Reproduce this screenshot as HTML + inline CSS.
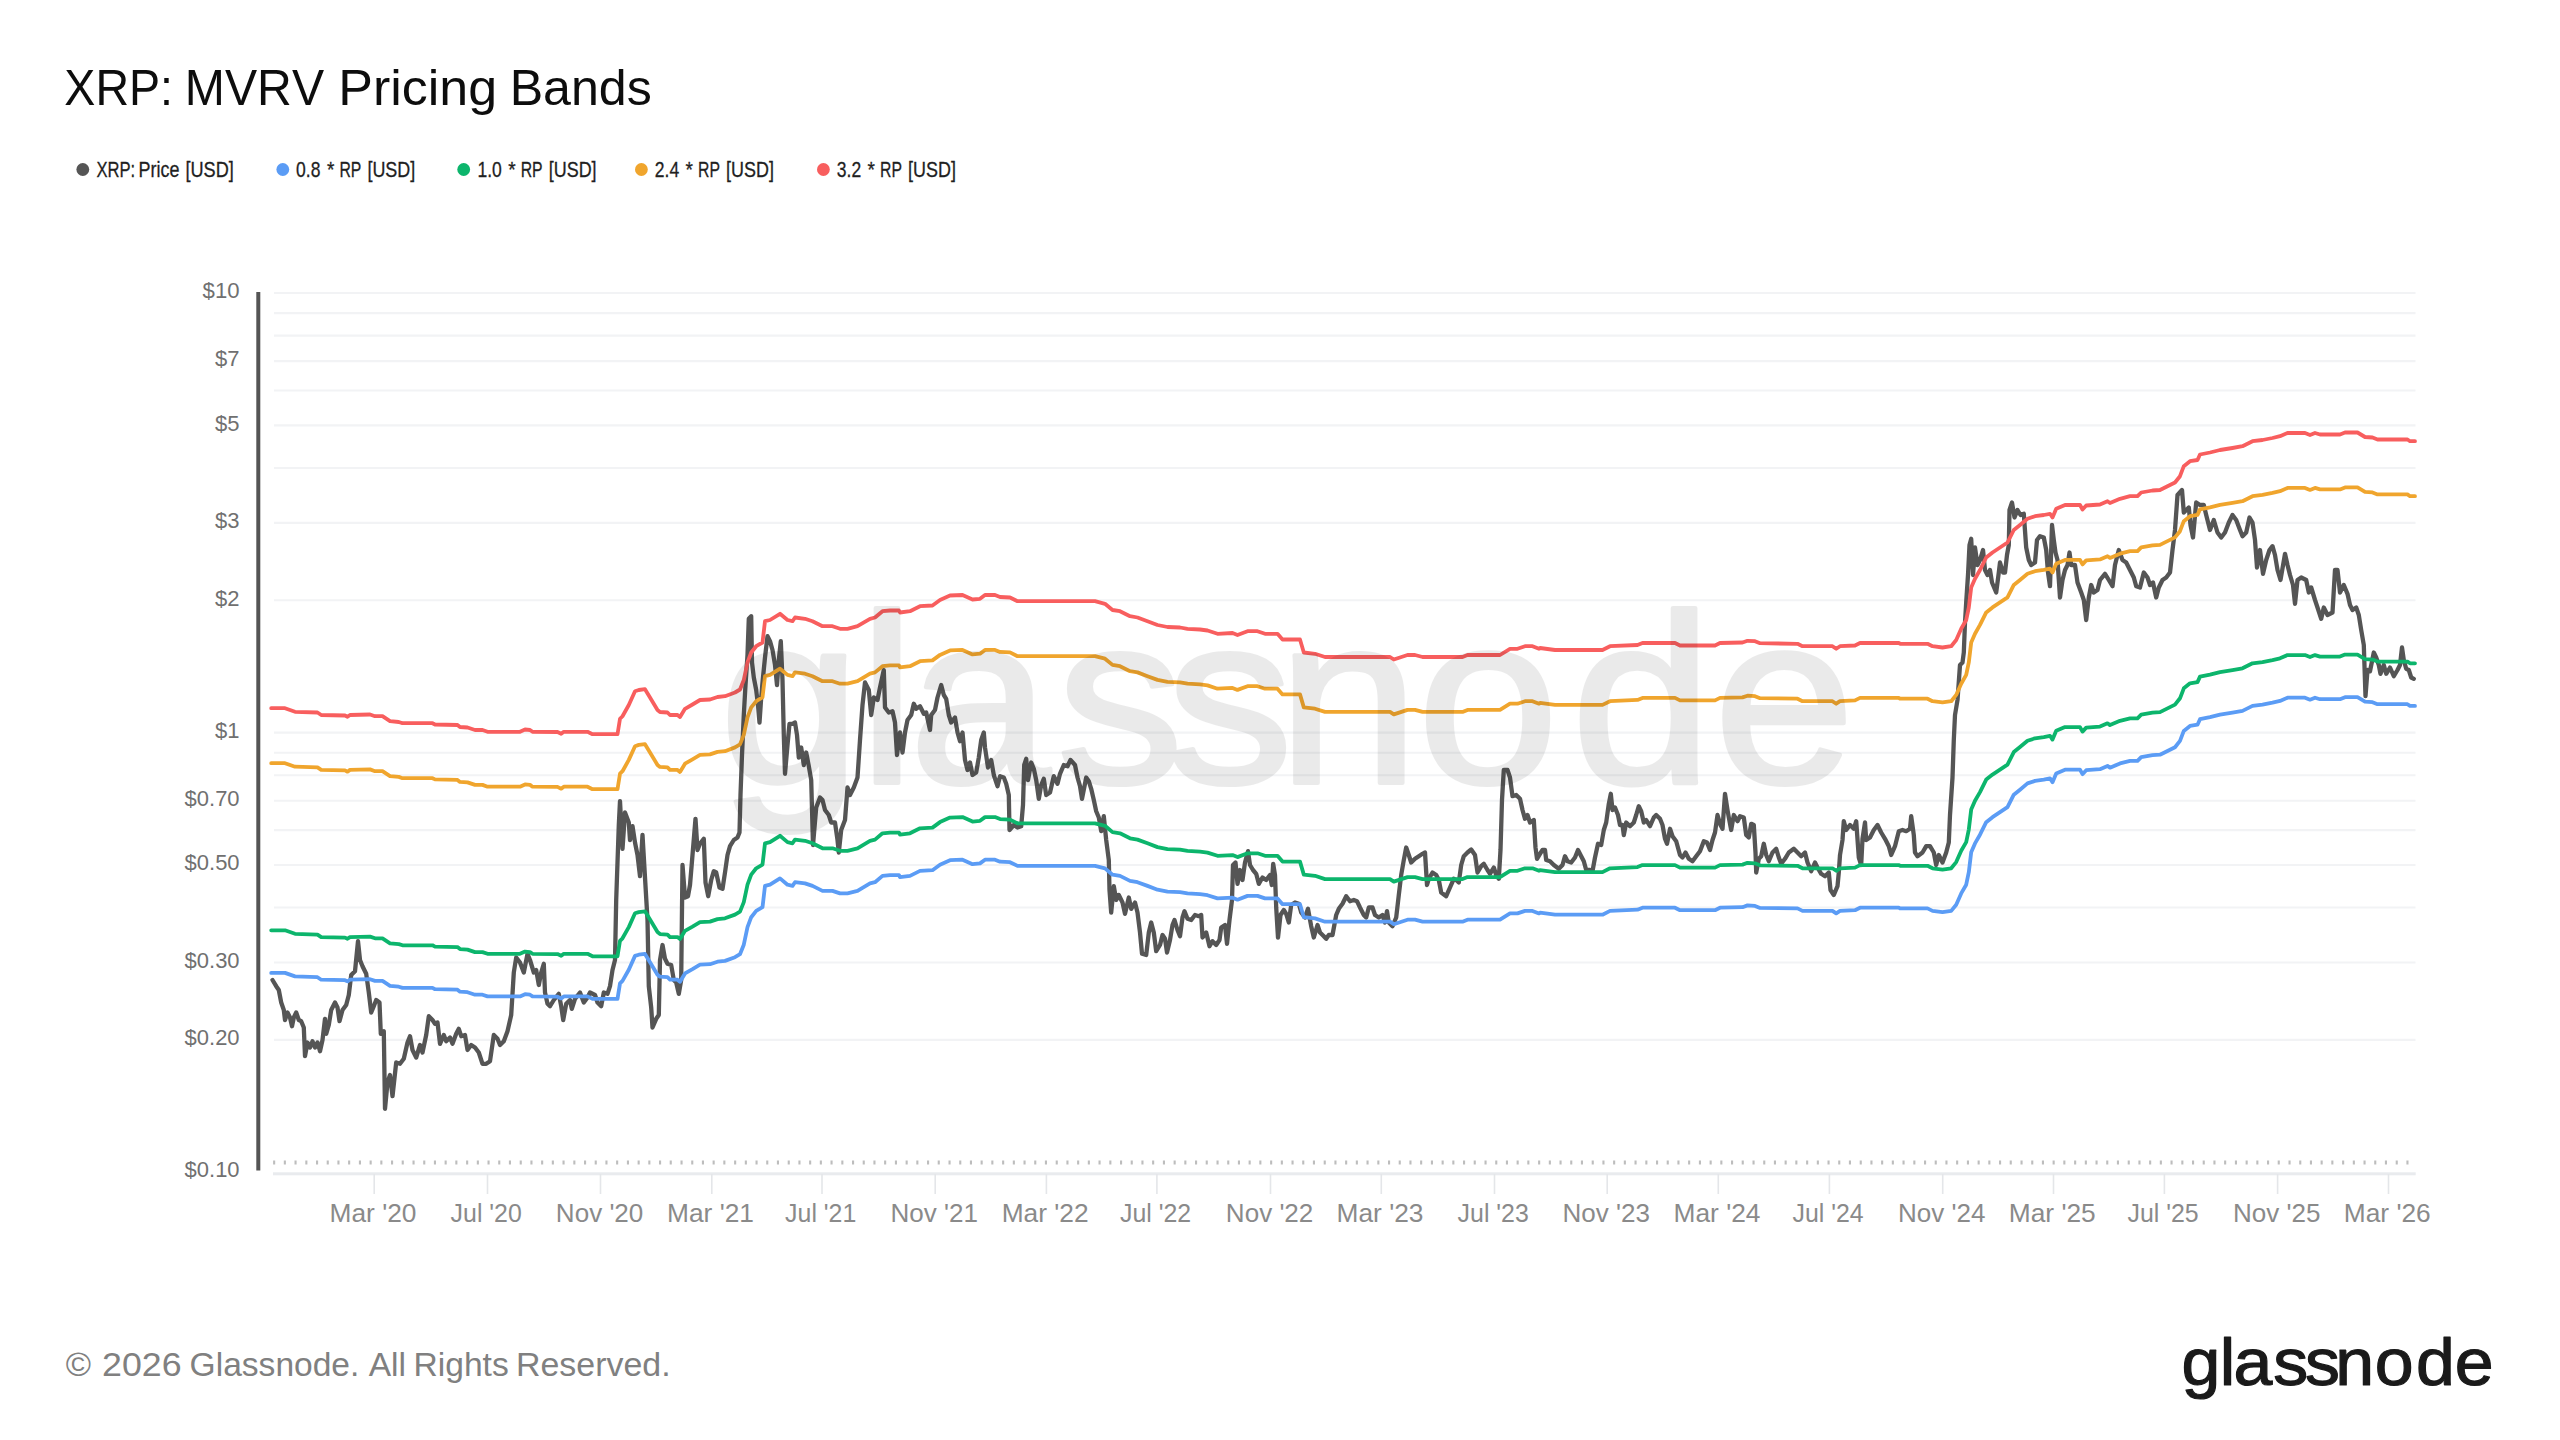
<!DOCTYPE html>
<html lang="en"><head><meta charset="utf-8"><title>XRP: MVRV Pricing Bands</title>
<style>html,body{margin:0;padding:0;background:#fff;}body{width:2560px;height:1440px;overflow:hidden;}svg{display:block;}text{font-family:"Liberation Sans", sans-serif;font-kerning:none;}</style>
</head><body>
<svg width="2560" height="1440" viewBox="0 0 2560 1440">
<rect width="2560" height="1440" fill="#ffffff"/>
<text y="105.2" font-size="50.20" fill="#0d0d0d" ><tspan x="64.35" textLength="108.70" lengthAdjust="spacingAndGlyphs">XRP:</tspan> <tspan x="184.85" textLength="139.16" lengthAdjust="spacingAndGlyphs">MVRV</tspan> <tspan x="338.34" textLength="158.81" lengthAdjust="spacingAndGlyphs">Pricing</tspan> <tspan x="509.69" textLength="142.12" lengthAdjust="spacingAndGlyphs">Bands</tspan></text>
<circle cx="82.8" cy="169.5" r="6.4" fill="#555555"/>
<circle cx="282.8" cy="169.5" r="6.4" fill="#5b9cf5"/>
<circle cx="463.7" cy="169.5" r="6.4" fill="#0cb56c"/>
<circle cx="641.4" cy="169.5" r="6.4" fill="#f0a52d"/>
<circle cx="823.4" cy="169.5" r="6.4" fill="#f85e5e"/>
<text y="176.6" font-size="21.30" fill="#1f1f1f" stroke="#1f1f1f" stroke-width="0.3"><tspan x="96.43" textLength="38.79" lengthAdjust="spacingAndGlyphs">XRP:</tspan> <tspan x="138.53" textLength="40.87" lengthAdjust="spacingAndGlyphs">Price</tspan> <tspan x="185.41" textLength="48.39" lengthAdjust="spacingAndGlyphs">[USD]</tspan></text>
<text y="176.6" font-size="21.30" fill="#1f1f1f" stroke="#1f1f1f" stroke-width="0.3"><tspan x="296.12" textLength="24.35" lengthAdjust="spacingAndGlyphs">0.8</tspan> <tspan x="326.89" textLength="7.40" lengthAdjust="spacingAndGlyphs">*</tspan> <tspan x="339.41" textLength="21.93" lengthAdjust="spacingAndGlyphs">RP</tspan> <tspan x="367.42" textLength="47.86" lengthAdjust="spacingAndGlyphs">[USD]</tspan></text>
<text y="176.6" font-size="21.30" fill="#1f1f1f" stroke="#1f1f1f" stroke-width="0.3"><tspan x="477.42" textLength="24.35" lengthAdjust="spacingAndGlyphs">1.0</tspan> <tspan x="508.19" textLength="7.40" lengthAdjust="spacingAndGlyphs">*</tspan> <tspan x="520.71" textLength="21.93" lengthAdjust="spacingAndGlyphs">RP</tspan> <tspan x="548.72" textLength="47.86" lengthAdjust="spacingAndGlyphs">[USD]</tspan></text>
<text y="176.6" font-size="21.30" fill="#1f1f1f" stroke="#1f1f1f" stroke-width="0.3"><tspan x="654.82" textLength="24.35" lengthAdjust="spacingAndGlyphs">2.4</tspan> <tspan x="685.59" textLength="7.40" lengthAdjust="spacingAndGlyphs">*</tspan> <tspan x="698.11" textLength="21.93" lengthAdjust="spacingAndGlyphs">RP</tspan> <tspan x="726.12" textLength="47.86" lengthAdjust="spacingAndGlyphs">[USD]</tspan></text>
<text y="176.6" font-size="21.30" fill="#1f1f1f" stroke="#1f1f1f" stroke-width="0.3"><tspan x="836.82" textLength="24.35" lengthAdjust="spacingAndGlyphs">3.2</tspan> <tspan x="867.59" textLength="7.40" lengthAdjust="spacingAndGlyphs">*</tspan> <tspan x="880.11" textLength="21.93" lengthAdjust="spacingAndGlyphs">RP</tspan> <tspan x="908.12" textLength="47.86" lengthAdjust="spacingAndGlyphs">[USD]</tspan></text>
<line x1="274.0" x2="2415.5" y1="293.00" y2="293.00" stroke="#f2f3f5" stroke-width="2.1"/>
<line x1="274.0" x2="2415.5" y1="313.11" y2="313.11" stroke="#f2f3f5" stroke-width="2.1"/>
<line x1="274.0" x2="2415.5" y1="335.60" y2="335.60" stroke="#f2f3f5" stroke-width="2.1"/>
<line x1="274.0" x2="2415.5" y1="361.09" y2="361.09" stroke="#f2f3f5" stroke-width="2.1"/>
<line x1="274.0" x2="2415.5" y1="390.52" y2="390.52" stroke="#f2f3f5" stroke-width="2.1"/>
<line x1="274.0" x2="2415.5" y1="425.33" y2="425.33" stroke="#f2f3f5" stroke-width="2.1"/>
<line x1="274.0" x2="2415.5" y1="467.93" y2="467.93" stroke="#f2f3f5" stroke-width="2.1"/>
<line x1="274.0" x2="2415.5" y1="522.86" y2="522.86" stroke="#f2f3f5" stroke-width="2.1"/>
<line x1="274.0" x2="2415.5" y1="600.27" y2="600.27" stroke="#f2f3f5" stroke-width="2.1"/>
<line x1="274.0" x2="2415.5" y1="732.60" y2="732.60" stroke="#f2f3f5" stroke-width="2.1"/>
<line x1="274.0" x2="2415.5" y1="752.71" y2="752.71" stroke="#f2f3f5" stroke-width="2.1"/>
<line x1="274.0" x2="2415.5" y1="775.20" y2="775.20" stroke="#f2f3f5" stroke-width="2.1"/>
<line x1="274.0" x2="2415.5" y1="800.69" y2="800.69" stroke="#f2f3f5" stroke-width="2.1"/>
<line x1="274.0" x2="2415.5" y1="830.12" y2="830.12" stroke="#f2f3f5" stroke-width="2.1"/>
<line x1="274.0" x2="2415.5" y1="864.93" y2="864.93" stroke="#f2f3f5" stroke-width="2.1"/>
<line x1="274.0" x2="2415.5" y1="907.53" y2="907.53" stroke="#f2f3f5" stroke-width="2.1"/>
<line x1="274.0" x2="2415.5" y1="962.46" y2="962.46" stroke="#f2f3f5" stroke-width="2.1"/>
<line x1="274.0" x2="2415.5" y1="1039.87" y2="1039.87" stroke="#f2f3f5" stroke-width="2.1"/>
<g fill="none" stroke-linejoin="round" stroke-linecap="round" stroke-width="3.8">
<path d="M272.5 980.0 L276.2 986.2 L278.8 990.0 L281.2 1002.5 L283.8 1010.0 L285.0 1020.0 L287.5 1012.5 L290.0 1017.5 L292.0 1026.2 L293.8 1017.5 L296.2 1012.5 L298.8 1020.0 L301.2 1021.2 L303.8 1027.5 L305.0 1056.2 L307.5 1042.5 L310.0 1047.5 L312.5 1041.2 L315.0 1047.5 L317.5 1042.5 L320.0 1051.2 L322.5 1040.0 L325.0 1018.8 L326.2 1033.8 L328.8 1025.0 L331.2 1010.0 L335.0 1002.5 L337.5 1007.5 L339.5 1021.2 L342.5 1010.0 L346.2 1005.0 L348.8 995.0 L351.2 975.0 L355.0 971.2 L358.0 941.2 L360.0 960.0 L362.5 966.2 L366.2 973.8 L368.8 992.5 L371.2 1012.5 L373.8 1006.2 L376.2 1000.0 L379.5 1002.5 L380.8 1033.8 L383.8 1031.2 L385.0 1108.8 L387.5 1082.5 L390.0 1075.0 L392.5 1096.2 L396.2 1062.5 L400.0 1063.8 L403.8 1058.8 L407.5 1042.5 L410.0 1036.2 L412.5 1050.0 L416.2 1057.5 L420.0 1045.0 L422.5 1052.5 L426.2 1035.0 L428.8 1016.2 L432.5 1020.0 L435.0 1023.8 L437.5 1022.5 L440.0 1043.8 L443.8 1035.0 L446.2 1041.2 L450.0 1037.5 L452.5 1043.8 L456.2 1033.8 L458.8 1028.8 L461.2 1036.2 L465.0 1035.0 L467.5 1050.0 L471.2 1045.0 L475.0 1047.5 L478.8 1052.5 L482.5 1063.8 L486.2 1063.8 L490.0 1061.2 L493.8 1035.0 L497.5 1038.8 L500.0 1045.0 L503.8 1041.2 L507.5 1031.2 L511.2 1015.0 L513.8 972.5 L516.2 957.5 L520.0 962.5 L523.8 972.5 L527.5 953.8 L530.0 960.0 L533.8 972.5 L536.2 970.0 L538.8 985.0 L541.2 972.5 L543.8 963.8 L545.0 992.5 L547.5 1003.8 L550.0 1006.2 L553.8 1000.0 L558.8 993.8 L561.2 1006.2 L563.2 1020.0 L566.2 1003.8 L570.0 1000.0 L571.8 1008.8 L575.0 998.8 L580.0 992.5 L583.8 1002.5 L587.5 997.5 L590.0 992.5 L595.0 995.0 L597.5 1002.5 L601.2 1006.2 L603.8 992.5 L607.5 993.8 L610.0 986.2 L612.5 970.0 L615.0 960.0 L616.2 900.0 L618.8 825.0 L620.0 801.2 L622.5 848.8 L625.0 812.5 L628.8 822.5 L630.0 840.0 L632.5 826.2 L635.0 842.5 L637.5 855.0 L640.0 876.2 L642.5 835.0 L645.0 877.5 L647.5 920.0 L648.8 986.2 L651.2 1007.5 L652.5 1027.5 L656.2 1018.8 L658.8 1015.0 L660.0 960.0 L662.5 945.0 L665.0 958.8 L667.5 963.8 L671.2 965.0 L673.8 980.0 L676.2 982.5 L678.8 993.8 L681.2 980.0 L682.5 865.0 L685.0 897.5 L688.0 896.2 L690.0 885.0 L692.5 855.0 L695.5 818.8 L697.5 850.0 L700.0 843.8 L703.8 838.8 L705.5 882.5 L708.2 896.2 L711.2 880.0 L713.8 871.2 L716.2 872.5 L719.5 887.5 L722.5 888.8 L725.0 872.5 L727.5 855.0 L730.0 846.2 L733.8 840.0 L737.5 837.5 L739.5 832.5 L740.5 795.0 L742.0 755.0 L743.8 715.0 L745.5 685.0 L747.5 655.0 L748.8 618.8 L751.2 616.2 L752.0 662.5 L753.8 677.5 L756.2 690.0 L758.0 705.0 L759.5 722.5 L761.2 697.5 L763.0 677.5 L765.0 657.5 L767.5 636.2 L770.0 641.2 L772.5 650.0 L775.0 665.0 L777.0 685.0 L778.8 660.0 L780.8 641.2 L782.5 680.0 L783.8 735.0 L785.0 773.8 L787.5 745.0 L789.5 723.8 L792.5 723.8 L795.0 722.5 L797.0 735.0 L798.8 757.5 L801.2 747.5 L803.8 765.0 L806.2 752.5 L808.8 766.2 L811.2 780.0 L813.0 845.0 L816.2 807.5 L820.0 797.5 L822.5 800.0 L825.0 810.0 L828.8 815.0 L831.2 822.5 L835.0 822.5 L837.5 840.0 L838.8 852.5 L841.2 830.0 L845.0 820.0 L847.5 787.5 L850.0 795.0 L853.8 787.5 L857.5 777.5 L860.0 740.0 L862.5 705.0 L865.0 682.5 L868.8 690.0 L871.2 715.0 L873.8 697.5 L877.5 700.0 L880.0 687.5 L883.8 670.0 L885.0 707.5 L888.8 712.5 L892.5 711.2 L895.0 722.5 L897.0 755.0 L900.0 732.5 L902.5 752.5 L905.0 732.5 L907.5 720.0 L911.2 715.0 L913.8 703.8 L916.2 708.8 L920.0 706.2 L923.8 713.8 L926.2 712.5 L930.0 730.0 L931.2 715.0 L935.0 710.0 L937.5 697.5 L941.2 685.0 L943.8 695.0 L946.2 698.8 L948.8 715.0 L951.2 722.5 L955.0 717.5 L957.5 732.5 L960.0 741.2 L962.5 732.5 L965.0 760.0 L967.5 770.0 L970.0 762.5 L972.5 775.0 L976.2 772.5 L978.8 757.5 L981.2 740.0 L983.8 732.5 L985.0 747.5 L988.0 767.5 L991.2 760.0 L993.8 775.0 L997.5 786.2 L1000.0 776.2 L1003.8 777.5 L1006.2 783.8 L1008.8 795.0 L1009.5 830.0 L1013.8 825.0 L1017.5 827.5 L1021.2 826.2 L1023.0 805.0 L1024.2 765.0 L1026.2 758.8 L1028.0 780.0 L1031.2 762.5 L1033.8 768.8 L1036.2 780.0 L1038.8 798.8 L1041.2 785.0 L1043.8 778.8 L1046.2 795.0 L1050.0 792.5 L1053.8 776.2 L1057.5 783.8 L1060.0 773.8 L1063.8 765.0 L1067.5 766.2 L1070.5 760.0 L1075.0 765.0 L1077.5 777.5 L1080.0 786.2 L1082.0 798.8 L1086.2 777.5 L1088.8 781.2 L1091.2 788.8 L1093.8 800.0 L1096.2 811.2 L1098.8 817.5 L1101.2 831.2 L1103.8 816.2 L1106.2 840.0 L1108.8 860.0 L1109.5 890.0 L1111.2 912.5 L1113.8 886.2 L1116.2 900.0 L1118.8 895.0 L1122.5 902.5 L1125.0 913.8 L1128.8 897.5 L1131.2 908.8 L1135.0 902.5 L1137.5 912.5 L1140.0 932.5 L1142.0 953.8 L1146.2 955.0 L1148.8 932.5 L1151.2 922.5 L1153.8 932.5 L1156.2 951.2 L1160.0 945.0 L1162.5 935.0 L1165.0 938.8 L1167.0 952.5 L1170.0 940.0 L1172.5 925.0 L1174.5 920.0 L1177.5 930.0 L1180.0 936.2 L1182.5 917.5 L1184.5 911.2 L1187.5 918.8 L1191.2 920.0 L1195.0 915.0 L1198.8 916.2 L1201.2 915.0 L1202.5 937.5 L1206.2 932.5 L1209.5 946.2 L1212.5 941.2 L1216.2 945.0 L1219.5 940.0 L1221.2 927.5 L1225.0 925.0 L1227.0 943.8 L1229.5 920.0 L1232.0 900.0 L1233.0 865.0 L1235.5 862.5 L1237.5 883.8 L1240.0 870.0 L1242.5 880.0 L1245.0 862.5 L1248.0 851.2 L1250.0 865.0 L1253.0 870.0 L1256.2 873.8 L1258.8 883.8 L1262.5 877.5 L1266.2 880.0 L1270.0 875.0 L1271.8 885.0 L1273.2 863.8 L1275.0 875.0 L1276.2 907.5 L1278.0 937.5 L1280.5 915.0 L1283.8 910.0 L1286.2 913.8 L1288.8 922.5 L1291.2 905.0 L1295.0 902.5 L1298.8 903.8 L1301.2 912.5 L1305.0 917.5 L1308.0 908.8 L1311.2 926.2 L1313.8 937.5 L1317.5 925.0 L1320.0 932.5 L1323.8 936.2 L1326.2 938.8 L1328.8 935.0 L1332.5 935.0 L1336.2 915.0 L1338.8 908.8 L1342.5 903.8 L1346.2 896.2 L1350.0 901.2 L1353.8 900.0 L1357.0 901.2 L1360.0 907.5 L1363.8 915.0 L1366.2 917.5 L1368.8 907.5 L1372.5 907.5 L1375.0 915.0 L1378.8 917.5 L1382.5 915.0 L1385.0 922.5 L1387.0 911.2 L1388.8 922.5 L1392.5 926.2 L1396.2 917.5 L1398.8 895.0 L1401.2 875.0 L1403.8 860.0 L1406.2 847.5 L1408.8 855.0 L1411.2 862.5 L1415.0 858.8 L1418.8 856.2 L1422.5 853.8 L1425.0 852.5 L1427.0 885.0 L1428.8 878.8 L1432.5 872.5 L1436.2 875.0 L1438.8 880.0 L1441.2 892.5 L1446.2 896.2 L1450.0 887.5 L1453.8 878.8 L1456.2 880.0 L1458.8 882.5 L1461.2 865.0 L1463.8 856.2 L1467.5 852.5 L1471.2 849.5 L1475.0 855.0 L1477.5 872.5 L1481.2 866.2 L1483.8 863.8 L1487.5 870.0 L1490.0 873.8 L1493.8 867.5 L1496.2 875.0 L1498.8 878.8 L1500.5 850.0 L1502.0 800.0 L1503.8 770.0 L1507.5 770.0 L1510.0 777.5 L1512.5 796.2 L1516.2 795.0 L1520.0 798.8 L1522.5 810.0 L1525.0 818.8 L1527.5 815.0 L1530.0 822.5 L1533.8 820.0 L1535.5 847.5 L1537.0 858.8 L1540.0 853.8 L1542.5 850.0 L1545.0 850.0 L1546.2 860.0 L1550.0 861.2 L1553.8 865.0 L1558.8 868.8 L1562.5 865.0 L1565.0 856.2 L1567.5 861.2 L1571.2 862.5 L1575.0 857.5 L1578.0 850.0 L1581.2 856.2 L1583.8 861.2 L1586.2 870.0 L1590.0 870.0 L1592.5 871.2 L1595.0 857.5 L1598.0 843.8 L1601.2 845.0 L1603.8 830.0 L1606.2 822.5 L1608.8 803.8 L1610.8 793.8 L1612.5 810.0 L1615.0 807.5 L1618.0 815.0 L1620.0 825.0 L1622.5 825.0 L1623.8 835.0 L1626.2 822.5 L1630.0 826.2 L1633.8 822.5 L1636.2 815.0 L1638.8 806.2 L1641.2 811.2 L1643.8 822.5 L1646.2 820.0 L1650.0 826.2 L1653.8 817.5 L1656.2 815.0 L1660.0 818.8 L1662.5 825.0 L1665.0 838.8 L1667.0 843.8 L1670.0 828.8 L1672.5 836.2 L1676.2 841.2 L1680.0 855.0 L1682.5 857.5 L1685.5 852.5 L1688.8 858.8 L1692.5 861.2 L1696.2 856.2 L1700.0 851.2 L1703.8 841.2 L1707.0 842.5 L1710.0 850.0 L1712.5 840.0 L1715.0 832.5 L1717.5 815.0 L1720.5 825.0 L1722.5 828.8 L1725.0 793.8 L1727.5 810.0 L1728.8 817.5 L1731.2 830.0 L1733.8 815.0 L1737.5 821.2 L1740.0 816.2 L1743.8 817.5 L1746.2 835.0 L1748.8 837.5 L1751.2 823.8 L1753.8 825.0 L1755.5 852.5 L1756.2 872.5 L1758.8 858.8 L1761.2 856.2 L1763.8 843.8 L1766.2 855.0 L1768.8 861.2 L1772.5 852.5 L1776.2 848.8 L1778.8 857.5 L1781.2 863.8 L1785.0 858.8 L1788.8 852.5 L1793.8 848.8 L1797.5 852.5 L1801.2 856.2 L1805.0 852.5 L1807.5 862.5 L1811.2 871.2 L1815.0 862.5 L1817.5 867.5 L1821.2 873.8 L1825.0 876.2 L1828.8 872.5 L1830.5 890.0 L1833.8 895.0 L1837.5 886.2 L1838.8 872.5 L1840.0 855.0 L1842.5 840.0 L1843.8 821.2 L1846.2 830.0 L1850.0 825.0 L1853.8 828.8 L1856.2 821.2 L1858.8 857.5 L1861.2 865.0 L1862.5 838.8 L1865.0 822.5 L1866.2 840.0 L1870.0 837.5 L1873.8 830.0 L1877.5 825.0 L1881.2 832.5 L1885.0 838.8 L1888.8 846.2 L1891.2 855.0 L1895.0 846.2 L1898.8 831.2 L1902.5 830.0 L1906.2 831.2 L1910.0 828.8 L1911.2 816.2 L1913.8 835.0 L1915.0 852.5 L1917.5 856.2 L1922.5 852.5 L1926.2 846.2 L1930.0 846.2 L1933.8 852.5 L1936.2 865.0 L1938.8 855.0 L1942.5 862.5 L1946.2 852.5 L1948.8 842.5 L1950.0 815.0 L1952.5 777.5 L1953.8 740.0 L1955.0 715.0 L1957.5 700.0 L1960.0 665.0 L1962.5 662.5 L1963.8 652.5 L1965.0 622.5 L1966.2 602.5 L1968.0 575.0 L1969.5 545.0 L1971.2 538.8 L1973.0 575.0 L1975.0 547.5 L1977.5 565.0 L1980.0 560.0 L1983.0 550.0 L1985.0 570.0 L1987.5 575.0 L1990.0 570.0 L1992.0 582.5 L1996.2 592.5 L1998.8 572.5 L2000.0 562.5 L2003.0 572.5 L2005.0 572.5 L2007.0 555.0 L2008.8 545.0 L2009.5 510.0 L2012.0 502.5 L2014.5 517.5 L2017.5 510.0 L2020.5 515.0 L2023.8 513.8 L2026.2 547.5 L2028.8 560.0 L2031.2 565.0 L2035.0 562.5 L2037.0 540.0 L2040.0 536.2 L2043.8 537.5 L2046.2 550.0 L2048.0 572.5 L2050.0 586.2 L2052.0 525.0 L2053.8 540.0 L2055.5 552.5 L2057.5 560.0 L2060.0 597.5 L2062.5 580.0 L2065.0 570.0 L2067.5 565.0 L2069.5 552.5 L2071.2 565.0 L2075.0 565.0 L2077.5 582.5 L2081.2 592.5 L2083.8 600.0 L2086.2 620.0 L2088.8 597.5 L2091.2 585.0 L2093.8 592.5 L2097.5 590.0 L2100.0 580.0 L2105.0 573.8 L2108.8 580.0 L2112.5 586.2 L2115.0 565.0 L2118.8 550.0 L2122.5 560.0 L2126.2 562.5 L2130.0 570.0 L2133.8 577.5 L2136.2 586.2 L2140.0 587.5 L2143.8 572.5 L2147.5 577.5 L2150.0 585.0 L2153.0 582.5 L2156.2 597.5 L2158.8 587.5 L2162.5 580.0 L2166.2 577.5 L2170.0 572.5 L2172.5 550.0 L2175.0 530.0 L2177.5 495.0 L2182.0 490.0 L2183.8 512.5 L2188.8 507.5 L2190.5 525.0 L2193.0 537.5 L2196.2 502.5 L2200.0 505.0 L2203.8 505.0 L2206.2 515.0 L2210.0 530.0 L2213.8 520.0 L2217.5 532.5 L2221.2 537.5 L2225.0 532.5 L2228.8 522.5 L2232.5 515.0 L2236.2 520.0 L2240.0 530.0 L2242.5 536.2 L2246.2 532.5 L2249.5 517.5 L2252.5 522.5 L2255.0 540.0 L2257.0 567.5 L2260.0 550.0 L2263.0 573.8 L2266.2 560.0 L2269.5 550.0 L2272.5 546.2 L2275.0 555.0 L2277.5 570.0 L2280.5 580.0 L2285.0 553.8 L2287.5 565.0 L2290.0 575.0 L2293.0 585.0 L2295.0 603.8 L2297.5 580.0 L2301.2 577.5 L2306.2 580.0 L2308.8 592.5 L2311.2 587.5 L2315.0 600.0 L2317.5 607.5 L2321.2 618.8 L2323.8 607.5 L2327.5 615.0 L2332.5 612.5 L2335.0 570.0 L2337.5 570.0 L2340.0 592.5 L2343.8 585.0 L2347.5 593.8 L2350.0 605.0 L2352.5 610.0 L2356.2 607.5 L2358.8 615.0 L2361.2 630.0 L2363.8 645.0 L2365.5 696.2 L2367.5 670.0 L2370.0 671.2 L2373.8 652.5 L2376.2 657.5 L2378.8 665.0 L2380.5 673.8 L2383.8 665.0 L2386.2 673.8 L2390.0 667.5 L2393.8 676.2 L2397.5 670.0 L2400.0 665.0 L2402.0 647.5 L2403.8 660.0 L2406.2 668.8 L2408.8 670.0 L2411.2 677.5 L2413.8 678.8" stroke="#555555" stroke-width="4.3"/>
<path d="M271.2 972.9 L285.0 972.9 L295.0 976.4 L317.5 977.2 L321.2 979.7 L345.0 980.2 L347.5 981.4 L350.0 979.7 L370.0 979.2 L375.0 980.9 L382.5 980.9 L390.0 985.9 L398.8 986.7 L402.5 987.9 L432.5 987.9 L435.0 989.2 L457.5 989.7 L460.0 991.7 L467.5 992.2 L475.0 994.7 L482.5 994.7 L487.5 996.4 L520.0 996.4 L525.0 994.2 L530.0 994.7 L532.5 996.4 L557.5 996.7 L561.2 998.4 L563.8 996.4 L587.5 996.4 L592.5 998.9 L617.5 998.9 L620.0 983.4 L622.5 980.9 L628.8 969.7 L635.0 955.9 L638.8 954.7 L645.0 953.9 L650.0 962.2 L657.5 974.7 L660.0 976.7 L667.5 977.2 L670.0 979.7 L677.5 979.7 L680.0 981.7 L685.0 973.4 L692.5 969.2 L700.0 964.7 L710.0 964.2 L717.5 961.7 L725.0 960.9 L735.0 957.2 L740.0 954.2 L743.8 944.7 L747.5 927.2 L751.2 917.2 L756.2 910.9 L762.5 907.2 L765.0 885.9 L770.0 884.7 L780.0 878.4 L787.5 884.7 L792.5 885.9 L795.0 882.2 L805.0 883.4 L812.5 885.9 L822.5 890.9 L832.5 890.9 L840.0 893.4 L847.5 893.4 L857.5 890.9 L870.0 883.4 L875.0 882.2 L882.5 875.9 L890.0 875.2 L899.0 875.2 L900.0 877.2 L910.0 875.9 L920.0 870.9 L932.5 870.2 L940.0 864.7 L950.0 860.2 L962.5 859.7 L972.5 864.2 L980.0 863.4 L985.0 859.7 L995.0 859.7 L1000.0 861.7 L1010.0 862.2 L1017.5 865.9 L1095.0 865.9 L1105.0 868.4 L1112.5 874.7 L1120.0 875.9 L1130.0 880.9 L1137.5 882.2 L1147.5 885.9 L1157.5 889.7 L1167.5 891.7 L1180.0 892.2 L1187.5 893.4 L1200.0 894.2 L1207.5 895.2 L1217.5 898.4 L1232.5 897.7 L1237.5 899.7 L1247.5 895.9 L1257.5 895.9 L1265.0 898.4 L1277.5 898.4 L1282.5 904.2 L1300.0 904.2 L1303.8 917.2 L1315.0 918.4 L1325.0 921.7 L1390.0 921.7 L1393.8 924.2 L1407.5 919.7 L1415.0 919.7 L1422.5 921.7 L1462.5 921.7 L1467.5 919.7 L1500.0 919.7 L1510.0 913.4 L1517.5 913.4 L1525.0 910.9 L1532.5 910.9 L1539.0 913.4 L1540.0 912.7 L1555.0 914.7 L1602.5 914.7 L1610.0 910.9 L1637.5 909.7 L1642.5 907.7 L1675.0 907.7 L1680.0 910.2 L1715.0 910.2 L1720.0 907.7 L1742.5 907.2 L1747.5 905.4 L1755.0 905.9 L1760.0 907.9 L1797.5 908.4 L1802.5 910.9 L1832.5 910.9 L1836.2 913.4 L1840.0 910.9 L1855.0 910.2 L1860.0 907.7 L1899.0 907.7 L1900.0 908.4 L1927.5 908.4 L1932.5 910.9 L1942.5 912.2 L1951.2 910.9 L1956.2 904.7 L1961.2 893.4 L1966.2 884.7 L1968.8 872.2 L1971.2 852.2 L1975.0 843.4 L1980.0 834.7 L1986.2 822.2 L1992.5 817.2 L2000.0 812.2 L2007.5 807.2 L2013.8 794.7 L2020.0 789.7 L2027.5 783.4 L2035.0 780.9 L2043.8 779.7 L2050.0 778.4 L2052.5 782.2 L2056.2 773.4 L2065.0 769.7 L2080.0 769.7 L2082.5 774.2 L2086.2 770.2 L2100.0 769.2 L2107.5 765.9 L2110.0 767.7 L2120.0 763.4 L2130.0 760.9 L2137.5 760.9 L2141.2 757.2 L2152.5 755.2 L2160.0 754.7 L2170.0 749.7 L2175.0 747.2 L2180.0 740.9 L2183.8 730.9 L2190.0 725.9 L2197.5 724.7 L2200.0 719.2 L2210.0 717.2 L2220.0 714.7 L2232.5 712.7 L2242.5 710.9 L2252.5 705.9 L2262.5 704.7 L2272.5 702.7 L2280.0 700.9 L2287.5 697.7 L2305.0 697.7 L2310.0 699.7 L2315.0 697.7 L2320.0 699.2 L2340.0 699.2 L2345.0 697.2 L2357.5 697.2 L2365.0 701.7 L2372.5 702.2 L2377.5 704.2 L2397.5 704.2 L2407.5 704.2 L2410.0 705.9 L2415.0 705.9" stroke="#5b9cf5"/>
<path d="M271.2 930.3 L285.0 930.3 L295.0 933.8 L317.5 934.6 L321.2 937.1 L345.0 937.6 L347.5 938.8 L350.0 937.1 L370.0 936.6 L375.0 938.3 L382.5 938.3 L390.0 943.3 L398.8 944.1 L402.5 945.3 L432.5 945.3 L435.0 946.6 L457.5 947.1 L460.0 949.1 L467.5 949.6 L475.0 952.1 L482.5 952.1 L487.5 953.8 L520.0 953.8 L525.0 951.6 L530.0 952.1 L532.5 953.8 L557.5 954.1 L561.2 955.8 L563.8 953.8 L587.5 953.8 L592.5 956.3 L617.5 956.3 L620.0 940.8 L622.5 938.3 L628.8 927.1 L635.0 913.3 L638.8 912.1 L645.0 911.3 L650.0 919.6 L657.5 932.1 L660.0 934.1 L667.5 934.6 L670.0 937.1 L677.5 937.1 L680.0 939.1 L685.0 930.8 L692.5 926.6 L700.0 922.1 L710.0 921.6 L717.5 919.1 L725.0 918.3 L735.0 914.6 L740.0 911.6 L743.8 902.1 L747.5 884.6 L751.2 874.6 L756.2 868.3 L762.5 864.6 L765.0 843.3 L770.0 842.1 L780.0 835.8 L787.5 842.1 L792.5 843.3 L795.0 839.6 L805.0 840.8 L812.5 843.3 L822.5 848.3 L832.5 848.3 L840.0 850.8 L847.5 850.8 L857.5 848.3 L870.0 840.8 L875.0 839.6 L882.5 833.3 L890.0 832.6 L899.0 832.6 L900.0 834.6 L910.0 833.3 L920.0 828.3 L932.5 827.6 L940.0 822.1 L950.0 817.6 L962.5 817.1 L972.5 821.6 L980.0 820.8 L985.0 817.1 L995.0 817.1 L1000.0 819.1 L1010.0 819.6 L1017.5 823.3 L1095.0 823.3 L1105.0 825.8 L1112.5 832.1 L1120.0 833.3 L1130.0 838.3 L1137.5 839.6 L1147.5 843.3 L1157.5 847.1 L1167.5 849.1 L1180.0 849.6 L1187.5 850.8 L1200.0 851.6 L1207.5 852.6 L1217.5 855.8 L1232.5 855.1 L1237.5 857.1 L1247.5 853.3 L1257.5 853.3 L1265.0 855.8 L1277.5 855.8 L1282.5 861.6 L1300.0 861.6 L1303.8 874.6 L1315.0 875.8 L1325.0 879.1 L1390.0 879.1 L1393.8 881.6 L1407.5 877.1 L1415.0 877.1 L1422.5 879.1 L1462.5 879.1 L1467.5 877.1 L1500.0 877.1 L1510.0 870.8 L1517.5 870.8 L1525.0 868.3 L1532.5 868.3 L1539.0 870.8 L1540.0 870.1 L1555.0 872.1 L1602.5 872.1 L1610.0 868.3 L1637.5 867.1 L1642.5 865.1 L1675.0 865.1 L1680.0 867.6 L1715.0 867.6 L1720.0 865.1 L1742.5 864.6 L1747.5 862.8 L1755.0 863.3 L1760.0 865.3 L1797.5 865.8 L1802.5 868.3 L1832.5 868.3 L1836.2 870.8 L1840.0 868.3 L1855.0 867.6 L1860.0 865.1 L1899.0 865.1 L1900.0 865.8 L1927.5 865.8 L1932.5 868.3 L1942.5 869.6 L1951.2 868.3 L1956.2 862.1 L1961.2 850.8 L1966.2 842.1 L1968.8 829.6 L1971.2 809.6 L1975.0 800.8 L1980.0 792.1 L1986.2 779.6 L1992.5 774.6 L2000.0 769.6 L2007.5 764.6 L2013.8 752.1 L2020.0 747.1 L2027.5 740.8 L2035.0 738.3 L2043.8 737.1 L2050.0 735.8 L2052.5 739.6 L2056.2 730.8 L2065.0 727.1 L2080.0 727.1 L2082.5 731.6 L2086.2 727.6 L2100.0 726.6 L2107.5 723.3 L2110.0 725.1 L2120.0 720.8 L2130.0 718.3 L2137.5 718.3 L2141.2 714.6 L2152.5 712.6 L2160.0 712.1 L2170.0 707.1 L2175.0 704.6 L2180.0 698.3 L2183.8 688.3 L2190.0 683.3 L2197.5 682.1 L2200.0 676.6 L2210.0 674.6 L2220.0 672.1 L2232.5 670.1 L2242.5 668.3 L2252.5 663.3 L2262.5 662.1 L2272.5 660.1 L2280.0 658.3 L2287.5 655.1 L2305.0 655.1 L2310.0 657.1 L2315.0 655.1 L2320.0 656.6 L2340.0 656.6 L2345.0 654.6 L2357.5 654.6 L2365.0 659.1 L2372.5 659.6 L2377.5 661.6 L2397.5 661.6 L2407.5 661.6 L2410.0 663.3 L2415.0 663.3" stroke="#0cb56c"/>
<path d="M271.2 763.2 L285.0 763.2 L295.0 766.7 L317.5 767.4 L321.2 769.9 L345.0 770.4 L347.5 771.7 L350.0 769.9 L370.0 769.4 L375.0 771.2 L382.5 771.2 L390.0 776.2 L398.8 776.9 L402.5 778.2 L432.5 778.2 L435.0 779.4 L457.5 779.9 L460.0 781.9 L467.5 782.4 L475.0 784.9 L482.5 784.9 L487.5 786.7 L520.0 786.7 L525.0 784.4 L530.0 784.9 L532.5 786.7 L557.5 786.9 L561.2 788.7 L563.8 786.7 L587.5 786.7 L592.5 789.2 L617.5 789.2 L620.0 773.7 L622.5 771.2 L628.8 759.9 L635.0 746.2 L638.8 744.9 L645.0 744.2 L650.0 752.4 L657.5 764.9 L660.0 766.9 L667.5 767.4 L670.0 769.9 L677.5 769.9 L680.0 771.9 L685.0 763.7 L692.5 759.4 L700.0 754.9 L710.0 754.4 L717.5 751.9 L725.0 751.2 L735.0 747.4 L740.0 744.4 L743.8 734.9 L747.5 717.4 L751.2 707.4 L756.2 701.2 L762.5 697.4 L765.0 676.2 L770.0 674.9 L780.0 668.7 L787.5 674.9 L792.5 676.2 L795.0 672.4 L805.0 673.7 L812.5 676.2 L822.5 681.2 L832.5 681.2 L840.0 683.7 L847.5 683.7 L857.5 681.2 L870.0 673.7 L875.0 672.4 L882.5 666.2 L890.0 665.4 L899.0 665.4 L900.0 667.4 L910.0 666.2 L920.0 661.2 L932.5 660.4 L940.0 654.9 L950.0 650.4 L962.5 649.9 L972.5 654.4 L980.0 653.7 L985.0 649.9 L995.0 649.9 L1000.0 651.9 L1010.0 652.4 L1017.5 656.2 L1095.0 656.2 L1105.0 658.7 L1112.5 664.9 L1120.0 666.2 L1130.0 671.2 L1137.5 672.4 L1147.5 676.2 L1157.5 679.9 L1167.5 681.9 L1180.0 682.4 L1187.5 683.7 L1200.0 684.4 L1207.5 685.4 L1217.5 688.7 L1232.5 687.9 L1237.5 689.9 L1247.5 686.2 L1257.5 686.2 L1265.0 688.7 L1277.5 688.7 L1282.5 694.4 L1300.0 694.4 L1303.8 707.4 L1315.0 708.7 L1325.0 711.9 L1390.0 711.9 L1393.8 714.4 L1407.5 709.9 L1415.0 709.9 L1422.5 711.9 L1462.5 711.9 L1467.5 709.9 L1500.0 709.9 L1510.0 703.7 L1517.5 703.7 L1525.0 701.2 L1532.5 701.2 L1539.0 703.7 L1540.0 702.9 L1555.0 704.9 L1602.5 704.9 L1610.0 701.2 L1637.5 699.9 L1642.5 697.9 L1675.0 697.9 L1680.0 700.4 L1715.0 700.4 L1720.0 697.9 L1742.5 697.4 L1747.5 695.7 L1755.0 696.2 L1760.0 698.2 L1797.5 698.7 L1802.5 701.2 L1832.5 701.2 L1836.2 703.7 L1840.0 701.2 L1855.0 700.4 L1860.0 697.9 L1899.0 697.9 L1900.0 698.7 L1927.5 698.7 L1932.5 701.2 L1942.5 702.4 L1951.2 701.2 L1956.2 694.9 L1961.2 683.7 L1966.2 674.9 L1968.8 662.4 L1971.2 642.4 L1975.0 633.7 L1980.0 624.9 L1986.2 612.4 L1992.5 607.4 L2000.0 602.4 L2007.5 597.4 L2013.8 584.9 L2020.0 579.9 L2027.5 573.7 L2035.0 571.2 L2043.8 569.9 L2050.0 568.7 L2052.5 572.4 L2056.2 563.7 L2065.0 559.9 L2080.0 559.9 L2082.5 564.4 L2086.2 560.4 L2100.0 559.4 L2107.5 556.2 L2110.0 557.9 L2120.0 553.7 L2130.0 551.2 L2137.5 551.2 L2141.2 547.4 L2152.5 545.4 L2160.0 544.9 L2170.0 539.9 L2175.0 537.4 L2180.0 531.2 L2183.8 521.2 L2190.0 516.2 L2197.5 514.9 L2200.0 509.4 L2210.0 507.4 L2220.0 504.9 L2232.5 502.9 L2242.5 501.2 L2252.5 496.2 L2262.5 494.9 L2272.5 492.9 L2280.0 491.2 L2287.5 487.9 L2305.0 487.9 L2310.0 489.9 L2315.0 487.9 L2320.0 489.4 L2340.0 489.4 L2345.0 487.4 L2357.5 487.4 L2365.0 491.9 L2372.5 492.4 L2377.5 494.4 L2397.5 494.4 L2407.5 494.4 L2410.0 496.2 L2415.0 496.2" stroke="#f0a52d"/>
<path d="M271.2 708.2 L285.0 708.2 L295.0 711.8 L317.5 712.5 L321.2 715.0 L345.0 715.5 L347.5 716.8 L350.0 715.0 L370.0 714.5 L375.0 716.2 L382.5 716.2 L390.0 721.2 L398.8 722.0 L402.5 723.2 L432.5 723.2 L435.0 724.5 L457.5 725.0 L460.0 727.0 L467.5 727.5 L475.0 730.0 L482.5 730.0 L487.5 731.8 L520.0 731.8 L525.0 729.5 L530.0 730.0 L532.5 731.8 L557.5 732.0 L561.2 733.8 L563.8 731.8 L587.5 731.8 L592.5 734.2 L617.5 734.2 L620.0 718.8 L622.5 716.2 L628.8 705.0 L635.0 691.2 L638.8 690.0 L645.0 689.2 L650.0 697.5 L657.5 710.0 L660.0 712.0 L667.5 712.5 L670.0 715.0 L677.5 715.0 L680.0 717.0 L685.0 708.8 L692.5 704.5 L700.0 700.0 L710.0 699.5 L717.5 697.0 L725.0 696.2 L735.0 692.5 L740.0 689.5 L743.8 680.0 L747.5 662.5 L751.2 652.5 L756.2 646.2 L762.5 642.5 L765.0 621.2 L770.0 620.0 L780.0 613.8 L787.5 620.0 L792.5 621.2 L795.0 617.5 L805.0 618.8 L812.5 621.2 L822.5 626.2 L832.5 626.2 L840.0 628.8 L847.5 628.8 L857.5 626.2 L870.0 618.8 L875.0 617.5 L882.5 611.2 L890.0 610.5 L899.0 610.5 L900.0 612.5 L910.0 611.2 L920.0 606.2 L932.5 605.5 L940.0 600.0 L950.0 595.5 L962.5 595.0 L972.5 599.5 L980.0 598.8 L985.0 595.0 L995.0 595.0 L1000.0 597.0 L1010.0 597.5 L1017.5 601.2 L1095.0 601.2 L1105.0 603.8 L1112.5 610.0 L1120.0 611.2 L1130.0 616.2 L1137.5 617.5 L1147.5 621.2 L1157.5 625.0 L1167.5 627.0 L1180.0 627.5 L1187.5 628.8 L1200.0 629.5 L1207.5 630.5 L1217.5 633.8 L1232.5 633.0 L1237.5 635.0 L1247.5 631.2 L1257.5 631.2 L1265.0 633.8 L1277.5 633.8 L1282.5 639.5 L1300.0 639.5 L1303.8 652.5 L1315.0 653.8 L1325.0 657.0 L1390.0 657.0 L1393.8 659.5 L1407.5 655.0 L1415.0 655.0 L1422.5 657.0 L1462.5 657.0 L1467.5 655.0 L1500.0 655.0 L1510.0 648.8 L1517.5 648.8 L1525.0 646.2 L1532.5 646.2 L1539.0 648.8 L1540.0 648.0 L1555.0 650.0 L1602.5 650.0 L1610.0 646.2 L1637.5 645.0 L1642.5 643.0 L1675.0 643.0 L1680.0 645.5 L1715.0 645.5 L1720.0 643.0 L1742.5 642.5 L1747.5 640.8 L1755.0 641.2 L1760.0 643.2 L1797.5 643.8 L1802.5 646.2 L1832.5 646.2 L1836.2 648.8 L1840.0 646.2 L1855.0 645.5 L1860.0 643.0 L1899.0 643.0 L1900.0 643.8 L1927.5 643.8 L1932.5 646.2 L1942.5 647.5 L1951.2 646.2 L1956.2 640.0 L1961.2 628.8 L1966.2 620.0 L1968.8 607.5 L1971.2 587.5 L1975.0 578.8 L1980.0 570.0 L1986.2 557.5 L1992.5 552.5 L2000.0 547.5 L2007.5 542.5 L2013.8 530.0 L2020.0 525.0 L2027.5 518.8 L2035.0 516.2 L2043.8 515.0 L2050.0 513.8 L2052.5 517.5 L2056.2 508.8 L2065.0 505.0 L2080.0 505.0 L2082.5 509.5 L2086.2 505.5 L2100.0 504.5 L2107.5 501.2 L2110.0 503.0 L2120.0 498.8 L2130.0 496.2 L2137.5 496.2 L2141.2 492.5 L2152.5 490.5 L2160.0 490.0 L2170.0 485.0 L2175.0 482.5 L2180.0 476.2 L2183.8 466.2 L2190.0 461.2 L2197.5 460.0 L2200.0 454.5 L2210.0 452.5 L2220.0 450.0 L2232.5 448.0 L2242.5 446.2 L2252.5 441.2 L2262.5 440.0 L2272.5 438.0 L2280.0 436.2 L2287.5 433.0 L2305.0 433.0 L2310.0 435.0 L2315.0 433.0 L2320.0 434.5 L2340.0 434.5 L2345.0 432.5 L2357.5 432.5 L2365.0 437.0 L2372.5 437.5 L2377.5 439.5 L2397.5 439.5 L2407.5 439.5 L2410.0 441.2 L2415.0 441.2" stroke="#f85e5e"/>
</g>
<text transform="scale(1.050,1)" x="685.25 817.92 865.98 1006.34 1110.82 1216.91 1350.11 1496.49 1632.03" y="783.3" font-size="241.50" fill="#000000" stroke="#000000" stroke-width="4.20" stroke-linejoin="round" opacity="0.078">glassnode</text>
<rect x="256.3" y="292" width="4" height="878.5" fill="#555555"/>
<rect x="273" y="1172.3" width="2142.7" height="3" fill="#e9ebee"/>
<rect x="273.1" y="1160.5" width="2.1" height="4" fill="#bdbdbd"/><rect x="283.8" y="1160.5" width="2.1" height="4" fill="#bdbdbd"/><rect x="294.5" y="1160.5" width="2.1" height="4" fill="#bdbdbd"/><rect x="305.3" y="1160.5" width="2.1" height="4" fill="#bdbdbd"/><rect x="316.0" y="1160.5" width="2.1" height="4" fill="#bdbdbd"/><rect x="326.7" y="1160.5" width="2.1" height="4" fill="#bdbdbd"/><rect x="337.4" y="1160.5" width="2.1" height="4" fill="#bdbdbd"/><rect x="348.1" y="1160.5" width="2.1" height="4" fill="#bdbdbd"/><rect x="358.9" y="1160.5" width="2.1" height="4" fill="#bdbdbd"/><rect x="369.6" y="1160.5" width="2.1" height="4" fill="#bdbdbd"/><rect x="380.3" y="1160.5" width="2.1" height="4" fill="#bdbdbd"/><rect x="391.0" y="1160.5" width="2.1" height="4" fill="#bdbdbd"/><rect x="401.7" y="1160.5" width="2.1" height="4" fill="#bdbdbd"/><rect x="412.5" y="1160.5" width="2.1" height="4" fill="#bdbdbd"/><rect x="423.2" y="1160.5" width="2.1" height="4" fill="#bdbdbd"/><rect x="433.9" y="1160.5" width="2.1" height="4" fill="#bdbdbd"/><rect x="444.6" y="1160.5" width="2.1" height="4" fill="#bdbdbd"/><rect x="455.3" y="1160.5" width="2.1" height="4" fill="#bdbdbd"/><rect x="466.1" y="1160.5" width="2.1" height="4" fill="#bdbdbd"/><rect x="476.8" y="1160.5" width="2.1" height="4" fill="#bdbdbd"/><rect x="487.5" y="1160.5" width="2.1" height="4" fill="#bdbdbd"/><rect x="498.2" y="1160.5" width="2.1" height="4" fill="#bdbdbd"/><rect x="508.9" y="1160.5" width="2.1" height="4" fill="#bdbdbd"/><rect x="519.7" y="1160.5" width="2.1" height="4" fill="#bdbdbd"/><rect x="530.4" y="1160.5" width="2.1" height="4" fill="#bdbdbd"/><rect x="541.1" y="1160.5" width="2.1" height="4" fill="#bdbdbd"/><rect x="551.8" y="1160.5" width="2.1" height="4" fill="#bdbdbd"/><rect x="562.5" y="1160.5" width="2.1" height="4" fill="#bdbdbd"/><rect x="573.3" y="1160.5" width="2.1" height="4" fill="#bdbdbd"/><rect x="584.0" y="1160.5" width="2.1" height="4" fill="#bdbdbd"/><rect x="594.7" y="1160.5" width="2.1" height="4" fill="#bdbdbd"/><rect x="605.4" y="1160.5" width="2.1" height="4" fill="#bdbdbd"/><rect x="616.1" y="1160.5" width="2.1" height="4" fill="#bdbdbd"/><rect x="626.9" y="1160.5" width="2.1" height="4" fill="#bdbdbd"/><rect x="637.6" y="1160.5" width="2.1" height="4" fill="#bdbdbd"/><rect x="648.3" y="1160.5" width="2.1" height="4" fill="#bdbdbd"/><rect x="659.0" y="1160.5" width="2.1" height="4" fill="#bdbdbd"/><rect x="669.7" y="1160.5" width="2.1" height="4" fill="#bdbdbd"/><rect x="680.5" y="1160.5" width="2.1" height="4" fill="#bdbdbd"/><rect x="691.2" y="1160.5" width="2.1" height="4" fill="#bdbdbd"/><rect x="701.9" y="1160.5" width="2.1" height="4" fill="#bdbdbd"/><rect x="712.6" y="1160.5" width="2.1" height="4" fill="#bdbdbd"/><rect x="723.3" y="1160.5" width="2.1" height="4" fill="#bdbdbd"/><rect x="734.1" y="1160.5" width="2.1" height="4" fill="#bdbdbd"/><rect x="744.8" y="1160.5" width="2.1" height="4" fill="#bdbdbd"/><rect x="755.5" y="1160.5" width="2.1" height="4" fill="#bdbdbd"/><rect x="766.2" y="1160.5" width="2.1" height="4" fill="#bdbdbd"/><rect x="776.9" y="1160.5" width="2.1" height="4" fill="#bdbdbd"/><rect x="787.7" y="1160.5" width="2.1" height="4" fill="#bdbdbd"/><rect x="798.4" y="1160.5" width="2.1" height="4" fill="#bdbdbd"/><rect x="809.1" y="1160.5" width="2.1" height="4" fill="#bdbdbd"/><rect x="819.8" y="1160.5" width="2.1" height="4" fill="#bdbdbd"/><rect x="830.5" y="1160.5" width="2.1" height="4" fill="#bdbdbd"/><rect x="841.3" y="1160.5" width="2.1" height="4" fill="#bdbdbd"/><rect x="852.0" y="1160.5" width="2.1" height="4" fill="#bdbdbd"/><rect x="862.7" y="1160.5" width="2.1" height="4" fill="#bdbdbd"/><rect x="873.4" y="1160.5" width="2.1" height="4" fill="#bdbdbd"/><rect x="884.1" y="1160.5" width="2.1" height="4" fill="#bdbdbd"/><rect x="894.9" y="1160.5" width="2.1" height="4" fill="#bdbdbd"/><rect x="905.6" y="1160.5" width="2.1" height="4" fill="#bdbdbd"/><rect x="916.3" y="1160.5" width="2.1" height="4" fill="#bdbdbd"/><rect x="927.0" y="1160.5" width="2.1" height="4" fill="#bdbdbd"/><rect x="937.7" y="1160.5" width="2.1" height="4" fill="#bdbdbd"/><rect x="948.5" y="1160.5" width="2.1" height="4" fill="#bdbdbd"/><rect x="959.2" y="1160.5" width="2.1" height="4" fill="#bdbdbd"/><rect x="969.9" y="1160.5" width="2.1" height="4" fill="#bdbdbd"/><rect x="980.6" y="1160.5" width="2.1" height="4" fill="#bdbdbd"/><rect x="991.3" y="1160.5" width="2.1" height="4" fill="#bdbdbd"/><rect x="1002.1" y="1160.5" width="2.1" height="4" fill="#bdbdbd"/><rect x="1012.8" y="1160.5" width="2.1" height="4" fill="#bdbdbd"/><rect x="1023.5" y="1160.5" width="2.1" height="4" fill="#bdbdbd"/><rect x="1034.2" y="1160.5" width="2.1" height="4" fill="#bdbdbd"/><rect x="1044.9" y="1160.5" width="2.1" height="4" fill="#bdbdbd"/><rect x="1055.7" y="1160.5" width="2.1" height="4" fill="#bdbdbd"/><rect x="1066.4" y="1160.5" width="2.1" height="4" fill="#bdbdbd"/><rect x="1077.1" y="1160.5" width="2.1" height="4" fill="#bdbdbd"/><rect x="1087.8" y="1160.5" width="2.1" height="4" fill="#bdbdbd"/><rect x="1098.5" y="1160.5" width="2.1" height="4" fill="#bdbdbd"/><rect x="1109.3" y="1160.5" width="2.1" height="4" fill="#bdbdbd"/><rect x="1120.0" y="1160.5" width="2.1" height="4" fill="#bdbdbd"/><rect x="1130.7" y="1160.5" width="2.1" height="4" fill="#bdbdbd"/><rect x="1141.4" y="1160.5" width="2.1" height="4" fill="#bdbdbd"/><rect x="1152.1" y="1160.5" width="2.1" height="4" fill="#bdbdbd"/><rect x="1162.9" y="1160.5" width="2.1" height="4" fill="#bdbdbd"/><rect x="1173.6" y="1160.5" width="2.1" height="4" fill="#bdbdbd"/><rect x="1184.3" y="1160.5" width="2.1" height="4" fill="#bdbdbd"/><rect x="1195.0" y="1160.5" width="2.1" height="4" fill="#bdbdbd"/><rect x="1205.7" y="1160.5" width="2.1" height="4" fill="#bdbdbd"/><rect x="1216.5" y="1160.5" width="2.1" height="4" fill="#bdbdbd"/><rect x="1227.2" y="1160.5" width="2.1" height="4" fill="#bdbdbd"/><rect x="1237.9" y="1160.5" width="2.1" height="4" fill="#bdbdbd"/><rect x="1248.6" y="1160.5" width="2.1" height="4" fill="#bdbdbd"/><rect x="1259.3" y="1160.5" width="2.1" height="4" fill="#bdbdbd"/><rect x="1270.1" y="1160.5" width="2.1" height="4" fill="#bdbdbd"/><rect x="1280.8" y="1160.5" width="2.1" height="4" fill="#bdbdbd"/><rect x="1291.5" y="1160.5" width="2.1" height="4" fill="#bdbdbd"/><rect x="1302.2" y="1160.5" width="2.1" height="4" fill="#bdbdbd"/><rect x="1312.9" y="1160.5" width="2.1" height="4" fill="#bdbdbd"/><rect x="1323.7" y="1160.5" width="2.1" height="4" fill="#bdbdbd"/><rect x="1334.4" y="1160.5" width="2.1" height="4" fill="#bdbdbd"/><rect x="1345.1" y="1160.5" width="2.1" height="4" fill="#bdbdbd"/><rect x="1355.8" y="1160.5" width="2.1" height="4" fill="#bdbdbd"/><rect x="1366.5" y="1160.5" width="2.1" height="4" fill="#bdbdbd"/><rect x="1377.3" y="1160.5" width="2.1" height="4" fill="#bdbdbd"/><rect x="1388.0" y="1160.5" width="2.1" height="4" fill="#bdbdbd"/><rect x="1398.7" y="1160.5" width="2.1" height="4" fill="#bdbdbd"/><rect x="1409.4" y="1160.5" width="2.1" height="4" fill="#bdbdbd"/><rect x="1420.1" y="1160.5" width="2.1" height="4" fill="#bdbdbd"/><rect x="1430.9" y="1160.5" width="2.1" height="4" fill="#bdbdbd"/><rect x="1441.6" y="1160.5" width="2.1" height="4" fill="#bdbdbd"/><rect x="1452.3" y="1160.5" width="2.1" height="4" fill="#bdbdbd"/><rect x="1463.0" y="1160.5" width="2.1" height="4" fill="#bdbdbd"/><rect x="1473.7" y="1160.5" width="2.1" height="4" fill="#bdbdbd"/><rect x="1484.5" y="1160.5" width="2.1" height="4" fill="#bdbdbd"/><rect x="1495.2" y="1160.5" width="2.1" height="4" fill="#bdbdbd"/><rect x="1505.9" y="1160.5" width="2.1" height="4" fill="#bdbdbd"/><rect x="1516.6" y="1160.5" width="2.1" height="4" fill="#bdbdbd"/><rect x="1527.3" y="1160.5" width="2.1" height="4" fill="#bdbdbd"/><rect x="1538.1" y="1160.5" width="2.1" height="4" fill="#bdbdbd"/><rect x="1548.8" y="1160.5" width="2.1" height="4" fill="#bdbdbd"/><rect x="1559.5" y="1160.5" width="2.1" height="4" fill="#bdbdbd"/><rect x="1570.2" y="1160.5" width="2.1" height="4" fill="#bdbdbd"/><rect x="1580.9" y="1160.5" width="2.1" height="4" fill="#bdbdbd"/><rect x="1591.7" y="1160.5" width="2.1" height="4" fill="#bdbdbd"/><rect x="1602.4" y="1160.5" width="2.1" height="4" fill="#bdbdbd"/><rect x="1613.1" y="1160.5" width="2.1" height="4" fill="#bdbdbd"/><rect x="1623.8" y="1160.5" width="2.1" height="4" fill="#bdbdbd"/><rect x="1634.5" y="1160.5" width="2.1" height="4" fill="#bdbdbd"/><rect x="1645.3" y="1160.5" width="2.1" height="4" fill="#bdbdbd"/><rect x="1656.0" y="1160.5" width="2.1" height="4" fill="#bdbdbd"/><rect x="1666.7" y="1160.5" width="2.1" height="4" fill="#bdbdbd"/><rect x="1677.4" y="1160.5" width="2.1" height="4" fill="#bdbdbd"/><rect x="1688.1" y="1160.5" width="2.1" height="4" fill="#bdbdbd"/><rect x="1698.9" y="1160.5" width="2.1" height="4" fill="#bdbdbd"/><rect x="1709.6" y="1160.5" width="2.1" height="4" fill="#bdbdbd"/><rect x="1720.3" y="1160.5" width="2.1" height="4" fill="#bdbdbd"/><rect x="1731.0" y="1160.5" width="2.1" height="4" fill="#bdbdbd"/><rect x="1741.7" y="1160.5" width="2.1" height="4" fill="#bdbdbd"/><rect x="1752.5" y="1160.5" width="2.1" height="4" fill="#bdbdbd"/><rect x="1763.2" y="1160.5" width="2.1" height="4" fill="#bdbdbd"/><rect x="1773.9" y="1160.5" width="2.1" height="4" fill="#bdbdbd"/><rect x="1784.6" y="1160.5" width="2.1" height="4" fill="#bdbdbd"/><rect x="1795.3" y="1160.5" width="2.1" height="4" fill="#bdbdbd"/><rect x="1806.1" y="1160.5" width="2.1" height="4" fill="#bdbdbd"/><rect x="1816.8" y="1160.5" width="2.1" height="4" fill="#bdbdbd"/><rect x="1827.5" y="1160.5" width="2.1" height="4" fill="#bdbdbd"/><rect x="1838.2" y="1160.5" width="2.1" height="4" fill="#bdbdbd"/><rect x="1848.9" y="1160.5" width="2.1" height="4" fill="#bdbdbd"/><rect x="1859.7" y="1160.5" width="2.1" height="4" fill="#bdbdbd"/><rect x="1870.4" y="1160.5" width="2.1" height="4" fill="#bdbdbd"/><rect x="1881.1" y="1160.5" width="2.1" height="4" fill="#bdbdbd"/><rect x="1891.8" y="1160.5" width="2.1" height="4" fill="#bdbdbd"/><rect x="1902.5" y="1160.5" width="2.1" height="4" fill="#bdbdbd"/><rect x="1913.3" y="1160.5" width="2.1" height="4" fill="#bdbdbd"/><rect x="1924.0" y="1160.5" width="2.1" height="4" fill="#bdbdbd"/><rect x="1934.7" y="1160.5" width="2.1" height="4" fill="#bdbdbd"/><rect x="1945.4" y="1160.5" width="2.1" height="4" fill="#bdbdbd"/><rect x="1956.1" y="1160.5" width="2.1" height="4" fill="#bdbdbd"/><rect x="1966.9" y="1160.5" width="2.1" height="4" fill="#bdbdbd"/><rect x="1977.6" y="1160.5" width="2.1" height="4" fill="#bdbdbd"/><rect x="1988.3" y="1160.5" width="2.1" height="4" fill="#bdbdbd"/><rect x="1999.0" y="1160.5" width="2.1" height="4" fill="#bdbdbd"/><rect x="2009.7" y="1160.5" width="2.1" height="4" fill="#bdbdbd"/><rect x="2020.5" y="1160.5" width="2.1" height="4" fill="#bdbdbd"/><rect x="2031.2" y="1160.5" width="2.1" height="4" fill="#bdbdbd"/><rect x="2041.9" y="1160.5" width="2.1" height="4" fill="#bdbdbd"/><rect x="2052.6" y="1160.5" width="2.1" height="4" fill="#bdbdbd"/><rect x="2063.3" y="1160.5" width="2.1" height="4" fill="#bdbdbd"/><rect x="2074.1" y="1160.5" width="2.1" height="4" fill="#bdbdbd"/><rect x="2084.8" y="1160.5" width="2.1" height="4" fill="#bdbdbd"/><rect x="2095.5" y="1160.5" width="2.1" height="4" fill="#bdbdbd"/><rect x="2106.2" y="1160.5" width="2.1" height="4" fill="#bdbdbd"/><rect x="2116.9" y="1160.5" width="2.1" height="4" fill="#bdbdbd"/><rect x="2127.7" y="1160.5" width="2.1" height="4" fill="#bdbdbd"/><rect x="2138.4" y="1160.5" width="2.1" height="4" fill="#bdbdbd"/><rect x="2149.1" y="1160.5" width="2.1" height="4" fill="#bdbdbd"/><rect x="2159.8" y="1160.5" width="2.1" height="4" fill="#bdbdbd"/><rect x="2170.5" y="1160.5" width="2.1" height="4" fill="#bdbdbd"/><rect x="2181.3" y="1160.5" width="2.1" height="4" fill="#bdbdbd"/><rect x="2192.0" y="1160.5" width="2.1" height="4" fill="#bdbdbd"/><rect x="2202.7" y="1160.5" width="2.1" height="4" fill="#bdbdbd"/><rect x="2213.4" y="1160.5" width="2.1" height="4" fill="#bdbdbd"/><rect x="2224.1" y="1160.5" width="2.1" height="4" fill="#bdbdbd"/><rect x="2234.9" y="1160.5" width="2.1" height="4" fill="#bdbdbd"/><rect x="2245.6" y="1160.5" width="2.1" height="4" fill="#bdbdbd"/><rect x="2256.3" y="1160.5" width="2.1" height="4" fill="#bdbdbd"/><rect x="2267.0" y="1160.5" width="2.1" height="4" fill="#bdbdbd"/><rect x="2277.7" y="1160.5" width="2.1" height="4" fill="#bdbdbd"/><rect x="2288.5" y="1160.5" width="2.1" height="4" fill="#bdbdbd"/><rect x="2299.2" y="1160.5" width="2.1" height="4" fill="#bdbdbd"/><rect x="2309.9" y="1160.5" width="2.1" height="4" fill="#bdbdbd"/><rect x="2320.6" y="1160.5" width="2.1" height="4" fill="#bdbdbd"/><rect x="2331.3" y="1160.5" width="2.1" height="4" fill="#bdbdbd"/><rect x="2342.1" y="1160.5" width="2.1" height="4" fill="#bdbdbd"/><rect x="2352.8" y="1160.5" width="2.1" height="4" fill="#bdbdbd"/><rect x="2363.5" y="1160.5" width="2.1" height="4" fill="#bdbdbd"/><rect x="2374.2" y="1160.5" width="2.1" height="4" fill="#bdbdbd"/><rect x="2384.9" y="1160.5" width="2.1" height="4" fill="#bdbdbd"/><rect x="2395.7" y="1160.5" width="2.1" height="4" fill="#bdbdbd"/><rect x="2406.4" y="1160.5" width="2.1" height="4" fill="#bdbdbd"/>
<rect x="373.4" y="1174" width="1.6" height="20" fill="#e4e6e9"/>
<text x="329.54" y="1221.9" font-size="26.40" fill="#8a8a8a" textLength="86.89" lengthAdjust="spacingAndGlyphs">Mar '20</text>
<rect x="486.7" y="1174" width="1.6" height="20" fill="#e4e6e9"/>
<text x="450.61" y="1221.9" font-size="26.40" fill="#8a8a8a" textLength="71.16" lengthAdjust="spacingAndGlyphs">Jul '20</text>
<rect x="599.7" y="1174" width="1.6" height="20" fill="#e4e6e9"/>
<text x="555.86" y="1221.9" font-size="26.40" fill="#8a8a8a" textLength="87.45" lengthAdjust="spacingAndGlyphs">Nov '20</text>
<rect x="711.0" y="1174" width="1.6" height="20" fill="#e4e6e9"/>
<text x="667.04" y="1221.9" font-size="26.40" fill="#8a8a8a" textLength="86.89" lengthAdjust="spacingAndGlyphs">Mar '21</text>
<rect x="821.2" y="1174" width="1.6" height="20" fill="#e4e6e9"/>
<text x="785.11" y="1221.9" font-size="26.40" fill="#8a8a8a" textLength="71.16" lengthAdjust="spacingAndGlyphs">Jul '21</text>
<rect x="934.4" y="1174" width="1.6" height="20" fill="#e4e6e9"/>
<text x="890.56" y="1221.9" font-size="26.40" fill="#8a8a8a" textLength="87.45" lengthAdjust="spacingAndGlyphs">Nov '21</text>
<rect x="1045.6" y="1174" width="1.6" height="20" fill="#e4e6e9"/>
<text x="1001.69" y="1221.9" font-size="26.40" fill="#8a8a8a" textLength="86.89" lengthAdjust="spacingAndGlyphs">Mar '22</text>
<rect x="1156.1" y="1174" width="1.6" height="20" fill="#e4e6e9"/>
<text x="1120.01" y="1221.9" font-size="26.40" fill="#8a8a8a" textLength="71.16" lengthAdjust="spacingAndGlyphs">Jul '22</text>
<rect x="1269.7" y="1174" width="1.6" height="20" fill="#e4e6e9"/>
<text x="1225.86" y="1221.9" font-size="26.40" fill="#8a8a8a" textLength="87.45" lengthAdjust="spacingAndGlyphs">Nov '22</text>
<rect x="1380.5" y="1174" width="1.6" height="20" fill="#e4e6e9"/>
<text x="1336.59" y="1221.9" font-size="26.40" fill="#8a8a8a" textLength="86.89" lengthAdjust="spacingAndGlyphs">Mar '23</text>
<rect x="1493.7" y="1174" width="1.6" height="20" fill="#e4e6e9"/>
<text x="1457.61" y="1221.9" font-size="26.40" fill="#8a8a8a" textLength="71.16" lengthAdjust="spacingAndGlyphs">Jul '23</text>
<rect x="1606.4" y="1174" width="1.6" height="20" fill="#e4e6e9"/>
<text x="1562.56" y="1221.9" font-size="26.40" fill="#8a8a8a" textLength="87.45" lengthAdjust="spacingAndGlyphs">Nov '23</text>
<rect x="1717.5" y="1174" width="1.6" height="20" fill="#e4e6e9"/>
<text x="1673.59" y="1221.9" font-size="26.40" fill="#8a8a8a" textLength="86.89" lengthAdjust="spacingAndGlyphs">Mar '24</text>
<rect x="1828.6" y="1174" width="1.6" height="20" fill="#e4e6e9"/>
<text x="1792.51" y="1221.9" font-size="26.40" fill="#8a8a8a" textLength="71.16" lengthAdjust="spacingAndGlyphs">Jul '24</text>
<rect x="1941.9" y="1174" width="1.6" height="20" fill="#e4e6e9"/>
<text x="1898.06" y="1221.9" font-size="26.40" fill="#8a8a8a" textLength="87.45" lengthAdjust="spacingAndGlyphs">Nov '24</text>
<rect x="2052.7" y="1174" width="1.6" height="20" fill="#e4e6e9"/>
<text x="2008.79" y="1221.9" font-size="26.40" fill="#8a8a8a" textLength="86.89" lengthAdjust="spacingAndGlyphs">Mar '25</text>
<rect x="2163.6" y="1174" width="1.6" height="20" fill="#e4e6e9"/>
<text x="2127.51" y="1221.9" font-size="26.40" fill="#8a8a8a" textLength="71.16" lengthAdjust="spacingAndGlyphs">Jul '25</text>
<rect x="2276.8" y="1174" width="1.6" height="20" fill="#e4e6e9"/>
<text x="2232.96" y="1221.9" font-size="26.40" fill="#8a8a8a" textLength="87.45" lengthAdjust="spacingAndGlyphs">Nov '25</text>
<rect x="2387.7" y="1174" width="1.6" height="20" fill="#e4e6e9"/>
<text x="2343.79" y="1221.9" font-size="26.40" fill="#8a8a8a" textLength="86.89" lengthAdjust="spacingAndGlyphs">Mar '26</text>
<text x="202.6" y="298.2" font-size="22.20" fill="#707070" textLength="37.0" lengthAdjust="spacingAndGlyphs" >$10</text>
<text x="215.1" y="366.3" font-size="22.20" fill="#707070" textLength="24.5" lengthAdjust="spacingAndGlyphs" >$7</text>
<text x="215.1" y="430.5" font-size="22.20" fill="#707070" textLength="24.5" lengthAdjust="spacingAndGlyphs" >$5</text>
<text x="215.1" y="528.1" font-size="22.20" fill="#707070" textLength="24.5" lengthAdjust="spacingAndGlyphs" >$3</text>
<text x="215.1" y="605.5" font-size="22.20" fill="#707070" textLength="24.5" lengthAdjust="spacingAndGlyphs" >$2</text>
<text x="215.1" y="737.8" font-size="22.20" fill="#707070" textLength="24.5" lengthAdjust="spacingAndGlyphs" >$1</text>
<text x="184.6" y="805.9" font-size="22.20" fill="#707070" textLength="55.0" lengthAdjust="spacingAndGlyphs" >$0.70</text>
<text x="184.6" y="870.1" font-size="22.20" fill="#707070" textLength="55.0" lengthAdjust="spacingAndGlyphs" >$0.50</text>
<text x="184.6" y="967.7" font-size="22.20" fill="#707070" textLength="55.0" lengthAdjust="spacingAndGlyphs" >$0.30</text>
<text x="184.6" y="1045.1" font-size="22.20" fill="#707070" textLength="55.0" lengthAdjust="spacingAndGlyphs" >$0.20</text>
<text x="184.6" y="1177.4" font-size="22.20" fill="#707070" textLength="55.0" lengthAdjust="spacingAndGlyphs" >$0.10</text>
<text y="1375.8" font-size="32.60" fill="#808080" ><tspan x="65.78" textLength="25.25" lengthAdjust="spacingAndGlyphs">©</tspan> <tspan x="102.00" textLength="79.57" lengthAdjust="spacingAndGlyphs">2026</tspan> <tspan x="189.61" textLength="169.75" lengthAdjust="spacingAndGlyphs">Glassnode.</tspan> <tspan x="368.73" textLength="37.31" lengthAdjust="spacingAndGlyphs">All</tspan> <tspan x="413.55" textLength="95.17" lengthAdjust="spacingAndGlyphs">Rights</tspan> <tspan x="516.02" textLength="154.58" lengthAdjust="spacingAndGlyphs">Reserved.</tspan></text>
<text transform="scale(1.050,1)" x="2077.61 2113.93 2127.14 2164.89 2195.17 2224.03 2261.75 2301.04 2337.95" y="1385.4" font-size="66.50" fill="#1a1a1a" stroke="#1a1a1a" stroke-width="1.15" stroke-linejoin="round" >glassnode</text>
</svg></body></html>
